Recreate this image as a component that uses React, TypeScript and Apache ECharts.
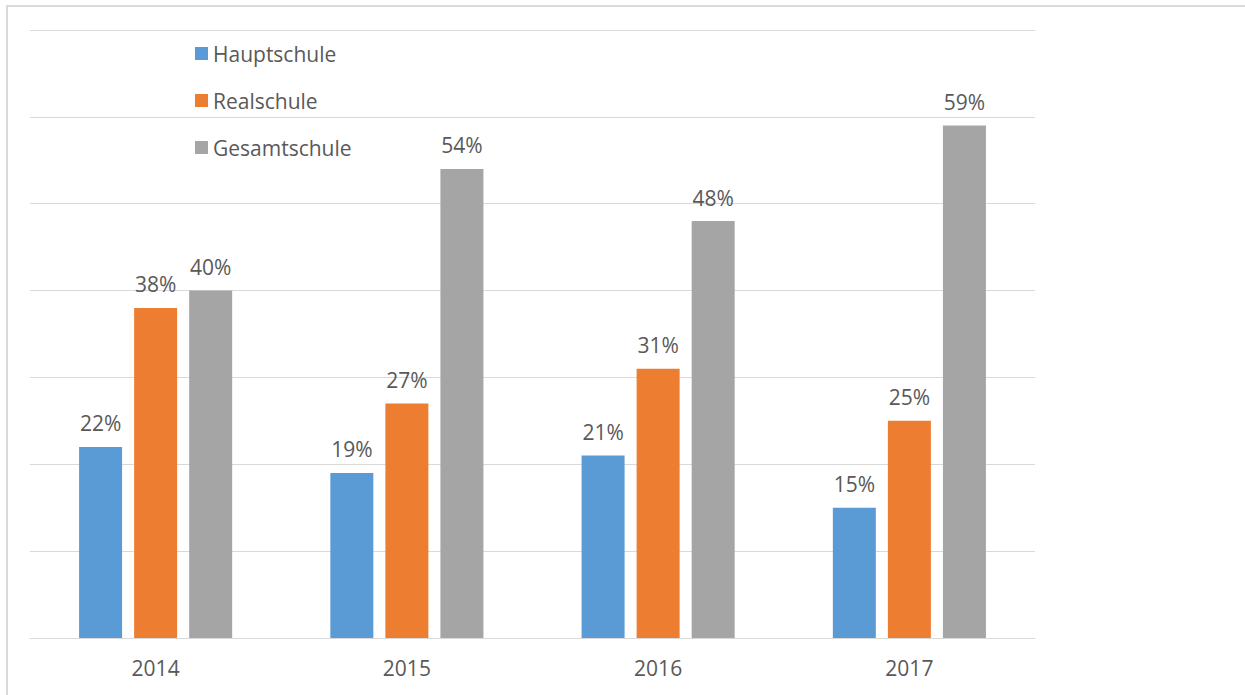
import React, { useEffect, useRef } from "react";
import * as echarts from "echarts";

const categories = ["2014", "2015", "2016", "2017"];
const hauptschule = [22, 19, 21, 15];
const realschule = [38, 27, 31, 25];
const gesamtschule = [40, 54, 48, 59];

const FONT = "'Open Sans', sans-serif";
const TEXT = "#595959";

export default function App() {
  const ref = useRef<HTMLDivElement>(null);
  useEffect(() => {
    document.body.style.margin = "0";
    const chart = echarts.init(ref.current!, undefined, { renderer: "svg" });
    const label = {
      show: true,
      position: "top" as const,
      distance: 13,
      formatter: "{c}%",
      color: TEXT,
      fontSize: 21,
      fontFamily: FONT,
    };
    chart.setOption({
      animation: false,
      backgroundColor: "#ffffff",
      graphic: [
        {
          type: "rect",
          shape: { x: 7, y: 6, width: 1300, height: 800 },
          style: { fill: "none", stroke: "#d9d9d9", lineWidth: 2 },
          z: 100,
        },
      ],
      legend: {
        orient: "vertical",
        left: 190,
        top: 38,
        itemWidth: 13,
        itemHeight: 13,
        itemGap: 26,
        icon: "rect",
        textStyle: { color: TEXT, fontSize: 21, fontFamily: FONT },
        data: ["Hauptschule", "Realschule", "Gesamtschule"],
      },
      grid: { left: 30, right: 210, top: 30, bottom: 57 },
      xAxis: {
        type: "category",
        data: categories,
        axisLine: { lineStyle: { color: "#d9d9d9", width: 1 } },
        axisTick: { show: false },
        axisLabel: { color: TEXT, fontSize: 21, fontFamily: FONT, margin: 19 },
      },
      yAxis: {
        type: "value",
        min: 0,
        max: 70,
        interval: 10,
        axisLabel: { show: false },
        axisLine: { show: false },
        axisTick: { show: false },
        splitLine: { lineStyle: { color: "#d9d9d9", width: 1 } },
      },
      series: [
        { name: "Hauptschule", type: "bar", data: hauptschule, barWidth: 43, barGap: "28%", itemStyle: { color: "#5B9BD5" }, label },
        { name: "Realschule", type: "bar", data: realschule, barWidth: 43, barGap: "28%", itemStyle: { color: "#ED7D31" }, label },
        { name: "Gesamtschule", type: "bar", data: gesamtschule, barWidth: 43, barGap: "28%", itemStyle: { color: "#A5A5A5" }, label },
      ],
    });
    return () => chart.dispose();
  }, []);
  return <div ref={ref} style={{ width: 1245, height: 695 }} />;
}
